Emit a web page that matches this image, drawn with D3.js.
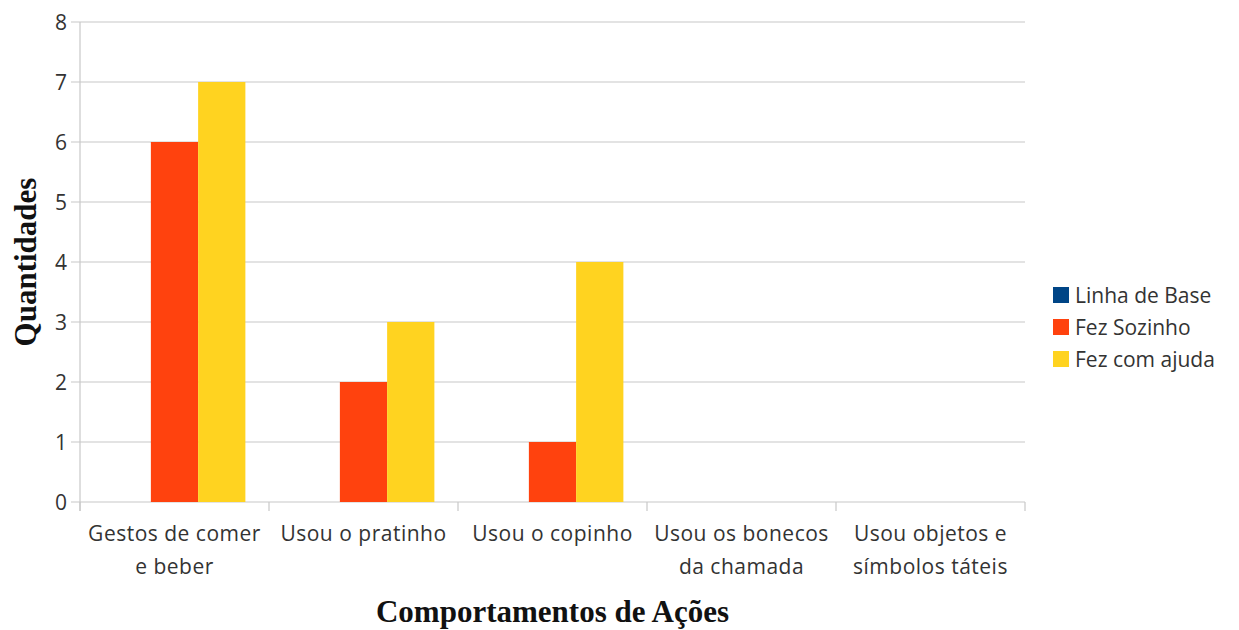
<!DOCTYPE html>
<html>
<head>
<meta charset="utf-8">
<script src="https://cdn.jsdelivr.net/npm/d3@7"></script>
<style>
  html, body { margin: 0; padding: 0; background: #fff; }
  svg { display: block; }
</style>
</head>
<body>
<svg id="chart" width="1239" height="630"></svg>
<script>
// Behaviour categories (label lines) and counts per series
const categories = [
  ["Gestos de comer", "e beber"],
  ["Usou o pratinho"],
  ["Usou o copinho"],
  ["Usou os bonecos", "da chamada"],
  ["Usou objetos e", "símbolos táteis"]
];
const seriesNames = ["Linha de Base", "Fez Sozinho", "Fez com ajuda"];
const linhaDeBase = [0, 0, 0, 0, 0];
const fezSozinho = [6, 2, 1, 0, 0];
const fezComAjuda = [7, 3, 4, 0, 0];
const yTicks = [0, 1, 2, 3, 4, 5, 6, 7, 8];
const colors = ["#004586", "#ff420e", "#ffd320"];

const seriesValues = [linhaDeBase, fezSozinho, fezComAjuda];
const svg = d3.select("#chart");
const plot = { left: 80, right: 1025, top: 22, bottom: 502 };
const sansFont = "'Open Sans', 'Noto Sans', sans-serif";
const serifFont = "'Liberation Serif', 'DejaVu Serif', serif";
const labelSize = 21;
const gridColor = "#c8c8c8";

const x0 = d3.scaleBand()
  .domain(d3.range(categories.length))
  .range([plot.left, plot.right]);
const x1 = d3.scaleBand()
  .domain(d3.range(seriesNames.length))
  .range([0, x0.bandwidth()])
  .paddingOuter(0.5);
const y = d3.scaleLinear().domain([0, 8]).range([plot.bottom, plot.top]);

// horizontal gridlines with short outward ticks
svg.append("g").selectAll("line").data(yTicks).join("line")
  .attr("x1", plot.left - 9).attr("x2", plot.right)
  .attr("y1", d => y(d)).attr("y2", d => y(d))
  .attr("stroke", gridColor).attr("stroke-width", 1.2);

// y tick labels
svg.append("g").selectAll("text").data(yTicks).join("text")
  .attr("x", plot.left - 13).attr("y", d => y(d))
  .attr("dy", "0.36em").attr("text-anchor", "end")
  .attr("font-family", sansFont).attr("font-size", labelSize).attr("fill", "#333")
  .text(d => d);

// y axis line
svg.append("line")
  .attr("x1", plot.left).attr("x2", plot.left)
  .attr("y1", plot.top).attr("y2", plot.bottom + 9)
  .attr("stroke", gridColor).attr("stroke-width", 1.2);

// x category boundary ticks
const bounds = d3.range(categories.length).map(i => x0(i)).concat([x0.range()[1]]);
svg.append("g").selectAll("line").data(bounds).join("line")
  .attr("x1", d => d).attr("x2", d => d)
  .attr("y1", plot.bottom).attr("y2", plot.bottom + 9)
  .attr("stroke", gridColor).attr("stroke-width", 1.2);

// bars
const groups = svg.append("g").selectAll("g").data(categories).join("g")
  .attr("transform", (d, i) => `translate(${x0(i)},0)`);
groups.selectAll("rect")
  .data((d, i) => seriesValues.map((vals, s) => ({ s, v: vals[i] })))
  .join("rect")
  .attr("x", d => x1(d.s))
  .attr("width", x1.bandwidth())
  .attr("y", d => y(d.v))
  .attr("height", d => y(0) - y(d.v))
  .attr("fill", d => colors[d.s]);

// category labels
const catLabels = svg.append("g").selectAll("text").data(categories).join("text")
  .attr("text-anchor", "middle")
  .attr("font-family", sansFont).attr("font-size", labelSize).attr("fill", "#333")
  .attr("letter-spacing", 0.5);
catLabels.each(function (lines, i) {
  d3.select(this).selectAll("tspan").data(lines).join("tspan")
    .attr("x", x0(i) + x0.bandwidth() / 2)
    .attr("y", (d, j) => 541 + j * 33)
    .text(d => d);
});

// axis titles
svg.append("text")
  .attr("x", (plot.left + plot.right) / 2).attr("y", 622)
  .attr("text-anchor", "middle")
  .attr("font-family", serifFont).attr("font-weight", "bold").attr("font-size", 31)
  .attr("fill", "#111")
  .text("Comportamentos de Ações");
svg.append("text")
  .attr("transform", `translate(36,${(plot.top + plot.bottom) / 2}) rotate(-90)`)
  .attr("text-anchor", "middle")
  .attr("font-family", serifFont).attr("font-weight", "bold").attr("font-size", 31)
  .attr("fill", "#111")
  .text("Quantidades");

// legend
const legend = svg.append("g").attr("transform", "translate(1053,287)");
const items = legend.selectAll("g").data(seriesNames).join("g")
  .attr("transform", (d, i) => `translate(0,${i * 32})`);
items.append("rect").attr("width", 16).attr("height", 16)
  .attr("fill", (d, i) => colors[i]);
items.append("text").attr("x", 22).attr("y", 8).attr("dy", "0.36em")
  .attr("font-family", sansFont).attr("font-size", labelSize).attr("fill", "#333")
  .text(d => d);
</script>
</body>
</html>
